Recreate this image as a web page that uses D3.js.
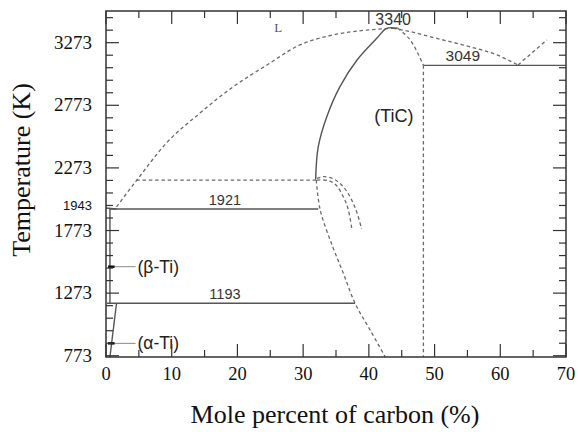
<!DOCTYPE html>
<html>
<head>
    <title>Ti-C phase diagram</title>
    <script src="https://d3js.org/d3.v7.min.js"></script>
    <style>
      body { margin: 0; background: #fff; }
    </style>
</head>
<body>
  <div id="vis"></div>
<script>
  // axis ticks
  var xTicks = [0, 10, 20, 30, 40, 50, 60, 70]
  var yTicks = [773, 1273, 1773, 2273, 2773, 3273]
  var meltTi = 1943

  // phase boundaries [mole % C, T(K)]
  var liquidusLeft = [[1.6, 1962], [4.7, 2176], [9.2, 2472], [14.3, 2711], [19.3, 2919],
                      [24.5, 3095], [29.5, 3255], [34.5, 3334], [39.7, 3374], [43.7, 3388]]
  var liquidusRight = [[43.7, 3388], [46.8, 3356], [49.3, 3321], [54.3, 3255], [59.5, 3175], [62.7, 3095]]
  var liquidusC = [[62.7, 3095], [67.1, 3295]]
  var ticSolidus = [[31.9, 2180], [32.3, 2442], [33.6, 2682], [35.6, 2922], [38.2, 3135], [41.2, 3308], [42.7, 3388], [44.4, 3388]]
  var ticRight = [[44.4, 3388], [46.3, 3295], [48.3, 3092]]
  var ticVertical = [[48.3, 3092], [48.3, 763]]
  var solvus = [[32.0, 2176], [32.6, 1936], [34.5, 1644], [36.1, 1434], [37.9, 1192], [40.2, 978], [42.5, 763]]
  var arcOuter = [[32.1, 2189], [33.1, 2203], [34.5, 2188], [35.6, 2150], [36.7, 2081], [37.6, 1993], [38.3, 1897], [38.9, 1785]]
  var arcInner = [[32.1, 2176], [33.8, 2172], [35.0, 2137], [36.1, 2043], [36.8, 1953], [37.4, 1791]]
  var peritectic = [[4.6, 2176], [32.0, 2176]]
  var betaSolvus = [[0.6, 1945], [0.6, 1192]]
  var alphaSolvus = [[1.6, 1192], [0.6, 763]]
  var meltCorner = [[0.0, 1953], [1.6, 1945]]

  // isotherms: [label, T, from, to]
  var isoLabels = ["1921", "1193", "3049"]
  var isoT = [1945, 1192, 3092]
  var isoFrom = [0.6, 0.15, 48.3]
  var isoTo = [32.3, 37.9, 70]
  var isoLabelC = [18.1, 18.1, 54.3]

  // phase names
  var phaseNames = ["(TiC)", "L"]
  var phaseC = [43.8, 26.2]
  var phaseT = [2640, 3358]
  var tiPhases = ["(\u03b2-Ti)", "(\u03b1-Ti)"]
  var tiPhaseT = [1484, 872]

  var width = 578, height = 432
  var margin = { top: 11, right: 12, bottom: 75, left: 106 }

  var svg = d3.select("#vis").append("svg")
      .attr("width", width)
      .attr("height", height)

  var x = d3.scaleLinear().domain([0, 70]).range([margin.left, width - margin.right])
  var y = d3.scaleLinear().domain([763, 3526]).range([height - margin.bottom, margin.top])

  var line = d3.line()
      .x(function(d) { return x(d[0]) })
      .y(function(d) { return y(d[1]) })
      .curve(d3.curveCatmullRom)

  var smooth = d3.line()
      .x(function(d) { return x(d[0]) })
      .y(function(d) { return y(d[1]) })
      .curve(d3.curveMonotoneX)

  var solidCol = "#555", dashCol = "#6a6a6a"

  function draw(pts, dashed, gen) {
    svg.append("path")
      .attr("d", (gen || line)(pts))
      .attr("fill", "none")
      .attr("stroke", dashed ? dashCol : solidCol)
      .attr("stroke-width", dashed ? 1.3 : 1.4)
      .attr("stroke-dasharray", dashed ? "3.5,2.8" : null)
  }

  draw(liquidusLeft, true, smooth)
  draw(liquidusRight, true, smooth)
  draw(liquidusC, true)
  draw(ticRight, true)
  draw(ticVertical, true)
  draw(solvus, true)
  draw(arcOuter, true)
  draw(arcInner, true)
  draw(peritectic, true)
  draw(ticSolidus, false)
  draw(betaSolvus, false)
  draw(alphaSolvus, false)
  draw(meltCorner, false)

  var sans = "Liberation Sans, Arial, sans-serif"
  var serif = "Liberation Serif, Times New Roman, serif"

  // isotherms
  isoT.forEach(function(t, i) {
    draw([[isoFrom[i], t], [isoTo[i], t]], false)
    svg.append("text")
      .attr("x", x(isoLabelC[i]))
      .attr("y", y(t) - 4)
      .attr("text-anchor", "middle")
      .style("font-family", sans)
      .style("font-size", i == 2 ? "15.5px" : "14.5px")
      .style("fill", "#333")
      .text(isoLabels[i])
  })

  // congruent melting point label
  svg.append("text")
    .attr("x", x(43.7))
    .attr("y", y(3388) - 3)
    .attr("text-anchor", "middle")
    .style("font-family", sans)
    .style("font-size", "16px")
    .style("fill", "#333")
    .text("3340")

  // phase names
  svg.append("text")
    .attr("x", x(phaseC[0]))
    .attr("y", y(phaseT[0]))
    .attr("text-anchor", "middle")
    .style("font-family", sans)
    .style("font-size", "18px")
    .style("fill", "#222")
    .text(phaseNames[0])
  svg.append("text")
    .attr("x", x(phaseC[1]))
    .attr("y", y(phaseT[1]))
    .attr("text-anchor", "middle")
    .style("font-family", serif)
    .style("font-size", "13px")
    .style("fill", "#555")
    .text(phaseNames[1])

  // Ti phases with leader lines
  tiPhaseT.forEach(function(t, i) {
    svg.append("line")
      .attr("x1", x(0.3)).attr("x2", x(4.5))
      .attr("y1", y(t)).attr("y2", y(t))
      .attr("stroke", "#888").attr("stroke-width", 1)
    svg.append("line")
      .attr("x1", x(0.3)).attr("x2", x(1.3))
      .attr("y1", y(t)).attr("y2", y(t))
      .attr("stroke", "#111").attr("stroke-width", 2.5)
    svg.append("text")
      .attr("x", x(4.8))
      .attr("y", y(t) + 6)
      .style("font-family", sans)
      .style("font-size", "17.5px")
      .style("fill", "#222")
      .text(tiPhases[i])
  })

  // frame
  svg.append("rect")
    .attr("x", x(0)).attr("y", y(3526))
    .attr("width", x(70) - x(0)).attr("height", y(763) - y(3526))
    .attr("fill", "none").attr("stroke", "#333").attr("stroke-width", 1.5)

  // inward ticks on all four sides
  var xMinor = d3.range(5, 70, 10)
  var yMinor = d3.range(873, 3526, 100).filter(function(v) { return (v - 773) % 500 != 0 })
  var tickG = svg.append("g").attr("stroke", "#333").attr("stroke-width", 1.2)
  function xTick(v, len) {
    tickG.append("line").attr("x1", x(v)).attr("x2", x(v)).attr("y1", y(763)).attr("y2", y(763) - len)
    tickG.append("line").attr("x1", x(v)).attr("x2", x(v)).attr("y1", y(3526)).attr("y2", y(3526) + len)
  }
  function yTick(v, len) {
    tickG.append("line").attr("x1", x(0)).attr("x2", x(0) + len).attr("y1", y(v)).attr("y2", y(v))
    tickG.append("line").attr("x1", x(70)).attr("x2", x(70) - len).attr("y1", y(v)).attr("y2", y(v))
  }
  xTicks.forEach(function(v) { xTick(v, 13) })
  xMinor.forEach(function(v) { xTick(v, 7) })
  yTicks.forEach(function(v) { yTick(v, 13) })
  yMinor.forEach(function(v) { yTick(v, 7) })

  // tick labels
  svg.selectAll(".xlab").data(xTicks).enter().append("text")
    .attr("x", function(d) { return x(d) })
    .attr("y", 380)
    .attr("text-anchor", "middle")
    .style("font-family", serif)
    .style("font-size", "18.5px")
    .style("fill", "#111")
    .text(function(d) { return d })

  svg.selectAll(".ylab").data(yTicks).enter().append("text")
    .attr("x", 92)
    .attr("y", function(d) { return y(d) + 6 })
    .attr("text-anchor", "end")
    .style("font-family", serif)
    .style("font-size", "19px")
    .style("fill", "#111")
    .text(function(d) { return d })

  svg.append("text")
    .attr("x", 92)
    .attr("y", y(meltTi) + 1)
    .attr("text-anchor", "end")
    .style("font-family", sans)
    .style("font-size", "13px")
    .style("fill", "#111")
    .text(meltTi)

  // axis titles
  svg.append("text")
    .attr("x", 335)
    .attr("y", 423)
    .attr("text-anchor", "middle")
    .style("font-family", serif)
    .style("font-size", "26px")
    .style("fill", "#111")
    .text("Mole percent of carbon (%)")

  svg.append("text")
    .attr("transform", "translate(30,170) rotate(-90)")
    .attr("text-anchor", "middle")
    .style("font-family", serif)
    .style("font-size", "26px")
    .style("fill", "#111")
    .text("Temperature (K)")
</script>
</body>
</html>
